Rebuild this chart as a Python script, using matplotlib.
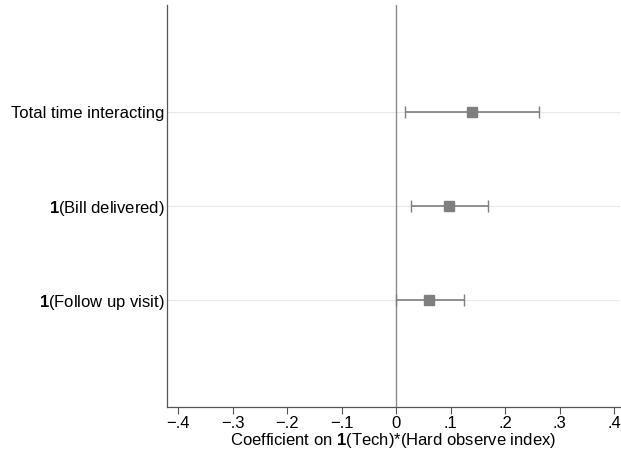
import matplotlib
matplotlib.use("Agg")
import matplotlib.pyplot as plt

plt.rcParams["font.family"] = ["Liberation Sans", "DejaVu Sans"]
plt.rcParams["mathtext.fontset"] = "custom"
plt.rcParams["mathtext.rm"] = "Liberation Sans"
plt.rcParams["mathtext.bf"] = "Liberation Sans:bold"

# coefficient estimates with 95% CIs, top row first
labels = ["Total time interacting", r"$\mathbf{1}$(Bill delivered)", r"$\mathbf{1}$(Follow up visit)"]
coef = [0.140, 0.097, 0.061]
ci_lo = [0.017, 0.028, -0.001]
ci_hi = [0.262, 0.169, 0.124]
xticks = [-0.4, -0.3, -0.2, -0.1, 0, 0.1, 0.2, 0.3, 0.4]
xtick_labels = ["\u2212.4", "\u2212.3", "\u2212.2", "\u2212.1", "0", ".1", ".2", ".3", ".4"]

ypos = list(range(len(labels), 0, -1))
grey = "#7f7f7f"
fs = 12

fig = plt.figure(figsize=(6.21, 4.57), dpi=100)
ax = fig.add_axes([0.269, 0.109, 0.729, 0.880])

for y in ypos:
    ax.axhline(y, color="#e8e8e8", lw=0.8, zorder=0)
ax.axvline(0, color="#8c8c8c", lw=1.0, zorder=1)

err = [[c - lo for c, lo in zip(coef, ci_lo)], [hi - c for c, hi in zip(coef, ci_hi)]]
ax.errorbar(coef, ypos, xerr=err, fmt="s", color=grey, ecolor=grey,
            markersize=7, elinewidth=1.2, capsize=4, capthick=1.0, zorder=3)

ax.set_xlim(-0.42, 0.41)
ax.set_ylim(-0.14, 4.14)
ax.set_xticks(xticks)
ax.set_xticklabels(xtick_labels, fontsize=fs)
ax.set_yticks(ypos)
ax.set_yticklabels(labels, fontsize=fs)
ax.tick_params(axis="y", length=0, pad=2)
ax.tick_params(axis="x", length=5, width=0.8, color="#555555", pad=1)
ax.set_xlabel(r"Coefficient on $\mathbf{1}$(Tech)*(Hard observe index)", fontsize=fs, labelpad=0)

for side in ("top", "right"):
    ax.spines[side].set_visible(False)
for side in ("left", "bottom"):
    ax.spines[side].set_color("#555555")
    ax.spines[side].set_linewidth(0.9)

fig.savefig("out.png", dpi=100)
